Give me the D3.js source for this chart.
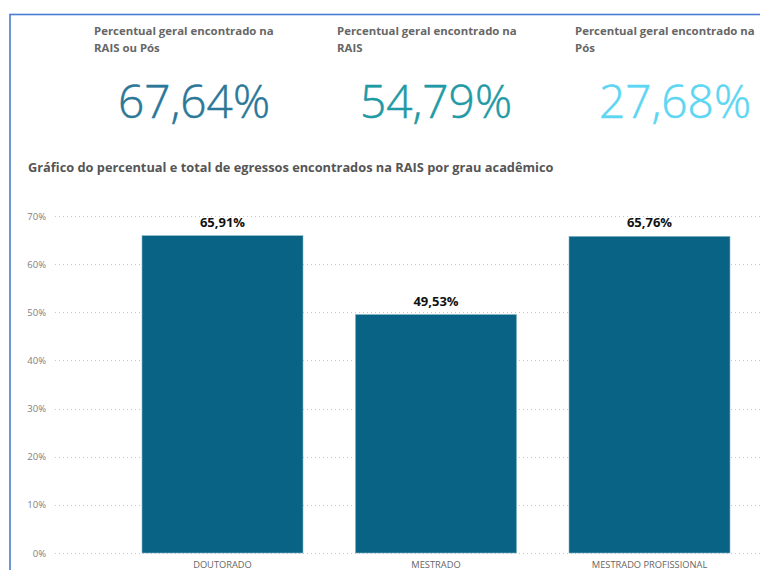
<!DOCTYPE html>
<html>
<head>
<meta charset="utf-8">
<script src="https://cdn.jsdelivr.net/npm/d3@7"></script>
<style>
  html, body { margin: 0; padding: 0; background: #fff; overflow: hidden; }
  svg { display: block; }
</style>
</head>
<body>
<svg id="chart" width="760" height="570"></svg>
<script>
// KPI cards
const cardTitles = [
  ["Percentual geral encontrado na", "RAIS ou Pós"],
  ["Percentual geral encontrado na", "RAIS"],
  ["Percentual geral encontrado na", "Pós"]
];
const cardValues = [67.64, 54.79, 27.68];
const cardColors = ["#2b7798", "#1f9aa5", "#5cd6f3"];

// Bar chart
const categories = ["DOUTORADO", "MESTRADO", "MESTRADO PROFISSIONAL"];
const percentValues = [65.91, 49.53, 65.76];
const yTicks = [0, 10, 20, 30, 40, 50, 60, 70];

const chartTitle = "Gráfico do percentual e total de egressos encontrados na RAIS por grau acadêmico";

const fmt = v => d3.format(".2f")(v).replace(".", ",") + "%";

const svg = d3.select("#chart");
const font = "'Segoe UI', 'Open Sans', 'Noto Sans', sans-serif";

// report frame
svg.append("rect")
  .attr("x", 10).attr("y", 14.5)
  .attr("width", 800).attr("height", 600)
  .attr("fill", "none")
  .attr("stroke", "#4a7cd1")
  .attr("stroke-width", 1.6);

// cards
const cardX = [94, 337, 575];
const cardCenters = [194, 436, 675];
cardTitles.forEach((lines, i) => {
  const t = svg.append("text")
    .attr("x", cardX[i]).attr("y", 35)
    .attr("font-family", font)
    .attr("font-size", 11.4)
    .attr("font-weight", 700)
    .attr("fill", "#666");
  lines.forEach((ln, j) => {
    t.append("tspan").attr("x", cardX[i]).attr("dy", j === 0 ? 0 : 17).text(ln);
  });
  svg.append("text")
    .attr("x", cardCenters[i]).attr("y", 118)
    .attr("text-anchor", "middle")
    .attr("font-family", font)
    .attr("font-size", 46)
    .attr("font-weight", 300)
    .attr("fill", cardColors[i])
    .attr("stroke", cardColors[i])
    .attr("stroke-width", 0.5)
    .text(fmt(cardValues[i]));
});

// chart title
svg.append("text")
  .attr("x", 28).attr("y", 172)
  .attr("font-family", font)
  .attr("font-size", 12.8)
  .attr("font-weight", 700)
  .attr("fill", "#555")
  .text(chartTitle);

// scales
const y = d3.scaleLinear().domain([0, 70]).range([553, 216]);
const x = d3.scaleBand()
  .domain(categories)
  .range([115.75, 756.25])
  .paddingInner(0.246)
  .paddingOuter(0.123);

// gridlines + y labels
const yAxis = svg.append("g");
yAxis.selectAll("line.grid")
  .data(yTicks)
  .join("line")
  .attr("class", "grid")
  .attr("x1", 55).attr("x2", 760)
  .attr("y1", d => Math.round(y(d)) + 0.5)
  .attr("y2", d => Math.round(y(d)) + 0.5)
  .attr("stroke", "#c8c8c8")
  .attr("stroke-width", 1)
  .attr("stroke-dasharray", "1,3");

yAxis.selectAll("text")
  .data(yTicks)
  .join("text")
  .attr("x", 46)
  .attr("y", d => y(d) + 3.5)
  .attr("text-anchor", "end")
  .attr("font-family", font)
  .attr("font-size", 9.5)
  .attr("fill", "#808080")
  .text(d => d + "%");

// bars
svg.selectAll("rect.bar")
  .data(categories)
  .join("rect")
  .attr("class", "bar")
  .attr("x", d => x(d))
  .attr("y", (d, i) => y(percentValues[i]))
  .attr("width", x.bandwidth())
  .attr("height", (d, i) => y(0) - y(percentValues[i]))
  .attr("fill", "#086384")
  .attr("stroke", "#7fb3c6")
  .attr("stroke-width", 0.6);

// value labels
svg.selectAll("text.val")
  .data(categories)
  .join("text")
  .attr("class", "val")
  .attr("x", d => x(d) + x.bandwidth() / 2)
  .attr("y", (d, i) => y(percentValues[i]) - 9)
  .attr("text-anchor", "middle")
  .attr("font-family", font)
  .attr("font-size", 13)
  .attr("font-weight", 700)
  .attr("fill", "#111")
  .text((d, i) => fmt(percentValues[i]));

// category labels
svg.selectAll("text.cat")
  .data(categories)
  .join("text")
  .attr("class", "cat")
  .attr("x", d => x(d) + x.bandwidth() / 2)
  .attr("y", 568)
  .attr("text-anchor", "middle")
  .attr("font-family", font)
  .attr("font-size", 9.3)
  .attr("fill", "#666")
  .text(d => d);
</script>
</body>
</html>
